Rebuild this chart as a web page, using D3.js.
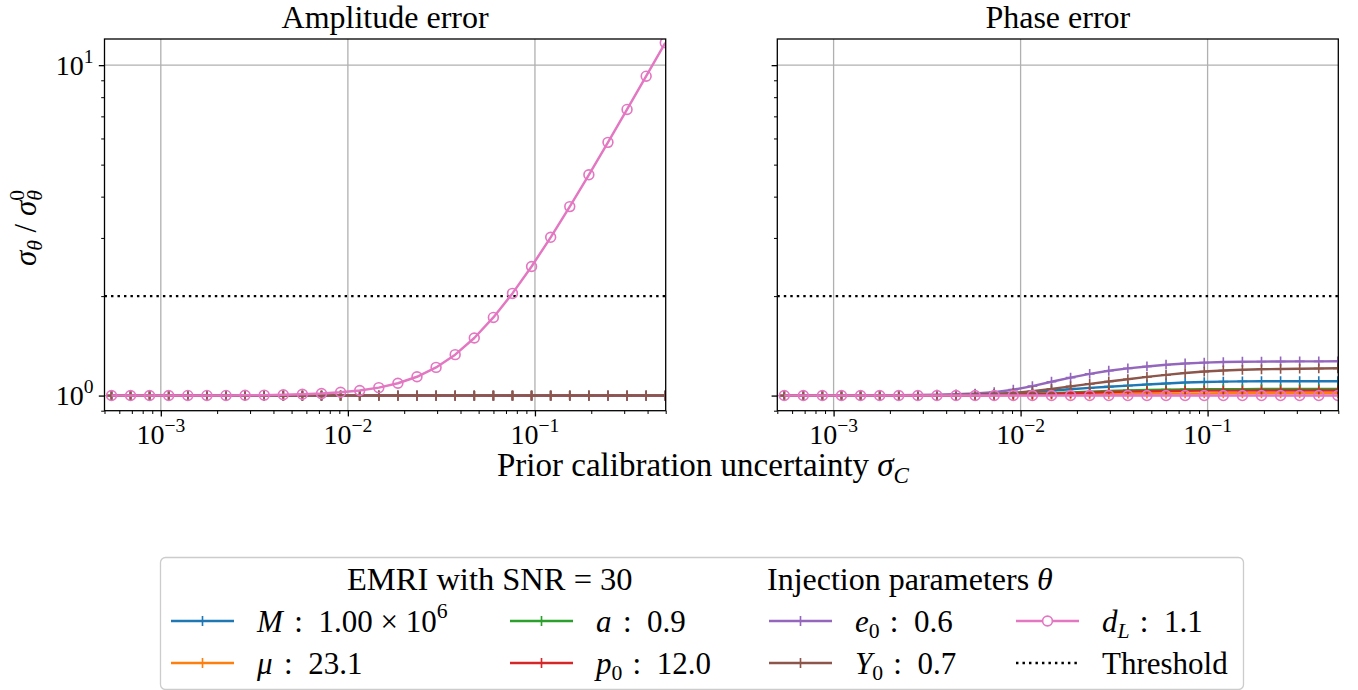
<!DOCTYPE html>
<html><head><meta charset="utf-8">
<script src="https://cdn.jsdelivr.net/npm/d3@7"></script>
<style>
body{margin:0;background:#fff;}
</style>
</head><body>
<svg id="c" width="1358" height="690"></svg>
<script>
// ---------------- DATA ----------------
const sigmaC = [0.000545, 0.000689, 0.000871, 0.001102, 0.001394, 0.001764, 0.002231, 0.002822, 0.003570, 0.004516,
                0.005713, 0.007227, 0.009142, 0.011565, 0.014630, 0.018507, 0.023411, 0.029615, 0.037463, 0.047391,
                0.059950, 0.075837, 0.095934, 0.121357, 0.153517, 0.194199, 0.245662, 0.310763, 0.393115, 0.497291];

const seriesKeys = ["M", "mu", "a", "p0", "e0", "Y0", "dL"];
const seriesColors = ["#1f77b4", "#ff7f0e", "#2ca02c", "#d62728", "#9467bd", "#8c564b", "#e377c2"];
const seriesMarkers = ["+", "+", "+", "+", "+", "+", "o"];

// Amplitude error panel
const ampM  = [1,1,1,1,1,1,1,1,1,1, 1,1,1,1,1,1,1,1,1,1, 1,1,1,1,1,1,1,1,1,1];
const ampMu = [1,1,1,1,1,1,1,1,1,1, 1,1,1,1,1,1,1,1,1,1, 1,1,1,1,1,1,1,1,1,1];
const ampA  = [1,1,1,1,1,1,1,1,1,1, 1,1,1,1,1,1,1,1,1,1, 1,1,1,1,1,1,1,1,1,1];
const ampP0 = [1,1,1,1,1,1,1,1,1,1, 1,1,1,1,1,1,1,1,1,1, 1,1,1,1,1,1,1,1,1,1];
const ampE0 = [1,1,1,1,1,1,1,1,1,1, 1,1,1,1,1,1,1,1,1,1, 1,1,1,1,1,1,1,1,1,1];
const ampY0 = [1,1,1,1,1,1,1,1,1,1, 1,1,1,1,1,1,1,1,1,1, 1,1,1,1,1,1,1,1,1,1];
const ampDL = [1.000, 1.000, 1.000, 1.000, 1.001, 1.001, 1.001, 1.002, 1.003, 1.006,
               1.009, 1.014, 1.023, 1.036, 1.057, 1.090, 1.140, 1.217, 1.330, 1.494,
               1.724, 2.038, 2.459, 3.013, 3.732, 4.657, 5.839, 7.346, 9.260, 11.689];

// Phase error panel
const phM  = [1.000, 1.000, 1.000, 1.000, 1.000, 1.001, 1.001, 1.001, 1.002, 1.003,
              1.006, 1.010, 1.016, 1.024, 1.035, 1.045, 1.055, 1.064, 1.072, 1.080,
              1.088, 1.095, 1.099, 1.102, 1.104, 1.105, 1.105, 1.105, 1.105, 1.105];
const phMu = [1.000, 1.000, 1.000, 1.000, 1.000, 1.000, 1.000, 1.000, 1.000, 1.001,
              1.001, 1.002, 1.003, 1.004, 1.006, 1.007, 1.009, 1.011, 1.012, 1.014,
              1.014, 1.015, 1.015, 1.016, 1.016, 1.016, 1.016, 1.016, 1.016, 1.016];
const phA  = [1.000, 1.000, 1.000, 1.000, 1.000, 1.000, 1.001, 1.001, 1.001, 1.002,
              1.004, 1.005, 1.008, 1.012, 1.016, 1.022, 1.027, 1.032, 1.037, 1.040,
              1.042, 1.044, 1.045, 1.046, 1.046, 1.047, 1.047, 1.047, 1.047, 1.047];
const phP0 = [1.000, 1.000, 1.000, 1.000, 1.000, 1.000, 1.000, 1.001, 1.001, 1.002,
              1.003, 1.004, 1.006, 1.009, 1.013, 1.017, 1.021, 1.025, 1.028, 1.031,
              1.032, 1.034, 1.035, 1.035, 1.035, 1.036, 1.036, 1.036, 1.036, 1.036];
const phE0 = [1.000, 1.000, 1.001, 1.001, 1.001, 1.002, 1.003, 1.004, 1.006, 1.009,
              1.014, 1.024, 1.042, 1.068, 1.101, 1.133, 1.163, 1.189, 1.209, 1.225,
              1.240, 1.251, 1.258, 1.263, 1.266, 1.267, 1.268, 1.269, 1.269, 1.270];
const phY0 = [1.000, 1.000, 1.000, 1.000, 1.001, 1.001, 1.002, 1.002, 1.003, 1.005,
              1.008, 1.012, 1.019, 1.031, 1.047, 1.066, 1.085, 1.103, 1.121, 1.139,
              1.155, 1.170, 1.182, 1.191, 1.197, 1.201, 1.204, 1.206, 1.208, 1.209];
const phDL = [1,1,1,1,1,1,1,1,1,1, 1,1,1,1,1,1,1,1,1,1, 1,1,1,1,1,1,1,1,1,1];

const thresholdValue = 2;
const panelTitles = ["Amplitude error", "Phase error"];
const xMajorTicks = [1e-3, 1e-2, 1e-1];
const xMajorExp = ["−3", "−2", "−1"];
const xMinorTicks = [5e-4, 6e-4, 7e-4, 8e-4, 9e-4, 2e-3, 3e-3, 4e-3, 5e-3, 6e-3, 7e-3, 8e-3, 9e-3,
                     2e-2, 3e-2, 4e-2, 5e-2, 6e-2, 7e-2, 8e-2, 9e-2, 2e-1, 3e-1, 4e-1, 5e-1];
const yMajorTicks = [1, 10];
const yMajorExp = ["0", "1"];
const yMinorTicks = [0.9, 2, 3, 4, 5, 6, 7, 8, 9];
const xDomain = [5e-4, 0.5];
const yDomain = [0.9, 12];

// ---------------- DRAWING ----------------
const FONT = "'Liberation Serif', 'DejaVu Serif', 'Times New Roman', serif";
const W = 1358, H = 690;
const svg = d3.select("#c");
svg.append("rect").attr("width", W).attr("height", H).attr("fill", "#fff");

const yTop = 39, yBot = 410.7;
const panels = [{x0: 104.5, x1: 665.7}, {x0: 777.3, x1: 1338.3}];
const LW = 2.45, MS = 4.9, MEW = 1.63;

function mathText(parent, x, y, parts, size, anchor) {
  const g = parent.append("g");
  let cx = 0, lastStart = 0;
  parts.forEach(p => {
    const small = p.sub || p.sup;
    const fs = small ? size * 0.7 : size;
    const dy = p.sub ? size * 0.2 : (p.sup ? -size * (p.supRaise || 0.4) : 0);
    const px = p.stack ? lastStart : cx;
    const t = g.append("text").attr("x", px).attr("y", dy)
      .attr("font-family", FONT)
      .attr("font-size", fs).attr("font-style", p.it ? "italic" : "normal")
      .attr("fill", "#000")
      .style("white-space", "pre").text(p.t);
    const w = t.node().getComputedTextLength();
    if (p.stack) { cx = Math.max(cx, px + w); }
    else { lastStart = px; cx = px + w; }
    if (p.gap) cx += p.gap * size;
  });
  const off = anchor === "middle" ? -cx / 2 : (anchor === "end" ? -cx : 0);
  g.attr("transform", `translate(${x + off},${y})`);
  return g;
}

function markerPath(type) {
  if (type === "+") return `M${-MS},0H${MS}M0,${-MS}V${MS}`;
  return null;
}

function drawPanel(idx, seriesList, showYLabels) {
  const {x0, x1} = panels[idx];
  const x = d3.scaleLog().domain(xDomain).range([x0, x1]);
  const y = d3.scaleLog().domain(yDomain).range([yBot, yTop]);
  const g = svg.append("g");
  const clipId = "clip" + idx;
  svg.append("clipPath").attr("id", clipId).append("rect")
    .attr("x", x0).attr("y", yTop).attr("width", x1 - x0).attr("height", yBot - yTop);

  // grid
  g.selectAll("line.gx").data(xMajorTicks).join("line").attr("class", "gx")
    .attr("x1", d => x(d)).attr("x2", d => x(d)).attr("y1", yTop).attr("y2", yBot)
    .attr("stroke", "#b0b0b0").attr("stroke-width", 1.3);
  g.selectAll("line.gy").data(yMajorTicks).join("line").attr("class", "gy")
    .attr("y1", d => y(d)).attr("y2", d => y(d)).attr("x1", x0).attr("x2", x1)
    .attr("stroke", "#b0b0b0").attr("stroke-width", 1.3);

  const plot = g.append("g").attr("clip-path", `url(#${clipId})`);
  // threshold
  plot.append("path")
    .attr("d", d3.line().x(d => x(d)).y(() => y(thresholdValue))(xDomain))
    .attr("fill", "none").attr("stroke", "#000").attr("stroke-width", LW)
    .attr("stroke-dasharray", "2.45,4.04");

  const line = d3.line().x((d, i) => x(sigmaC[i])).y(d => y(d));
  seriesList.forEach((vals, si) => {
    const col = seriesColors[si];
    plot.append("path").attr("d", line(vals)).attr("fill", "none")
      .attr("stroke", col).attr("stroke-width", LW).attr("stroke-linejoin", "round");
    if (seriesMarkers[si] === "+") {
      plot.append("g").selectAll("path").data(vals).join("path")
        .attr("d", markerPath("+"))
        .attr("transform", (d, i) => `translate(${x(sigmaC[i])},${y(d)})`)
        .attr("stroke", col).attr("stroke-width", MEW).attr("fill", "none");
    } else {
      plot.append("g").selectAll("circle").data(vals).join("circle")
        .attr("cx", (d, i) => x(sigmaC[i])).attr("cy", d => y(d)).attr("r", MS)
        .attr("stroke", col).attr("stroke-width", MEW).attr("fill", "none");
    }
  });

  // axes ticks
  const axX = g.append("g").attr("transform", `translate(0,${yBot})`)
    .call(d3.axisBottom(x).tickValues(xMajorTicks).tickSize(5.7).tickFormat(""));
  const axXm = g.append("g").attr("transform", `translate(0,${yBot})`)
    .call(d3.axisBottom(x).tickValues(xMinorTicks).tickSize(3.3).tickFormat(""));
  const axY = g.append("g").attr("transform", `translate(${x0},0)`)
    .call(d3.axisLeft(y).tickValues(yMajorTicks).tickSize(5.7).tickFormat(""));
  const axYm = g.append("g").attr("transform", `translate(${x0},0)`)
    .call(d3.axisLeft(y).tickValues(yMinorTicks).tickSize(3.3).tickFormat(""));
  [axX, axY].forEach(a => { a.select(".domain").remove(); a.selectAll("line").attr("stroke", "#000").attr("stroke-width", 1.3); });
  [axXm, axYm].forEach(a => { a.select(".domain").remove(); a.selectAll("line").attr("stroke", "#000").attr("stroke-width", 1.0); });

  // spines
  g.append("rect").attr("x", x0).attr("y", yTop).attr("width", x1 - x0).attr("height", yBot - yTop)
    .attr("fill", "none").attr("stroke", "#000").attr("stroke-width", 1.3);

  // tick labels
  xMajorTicks.forEach((v, i) => {
    mathText(svg, x(v), 444, [{t: "10"}, {t: xMajorExp[i], sup: true, supRaise: 0.42}], 28, "middle");
  });
  if (showYLabels) {
    yMajorTicks.forEach((v, i) => {
      mathText(svg, 93.5, y(v) + 9.5, [{t: "10"}, {t: yMajorExp[i], sup: true, supRaise: 0.42}], 28, "end");
    });
  }
  // title
  mathText(svg, (x0 + x1) / 2, 27.5, [{t: panelTitles[idx]}], 32, "middle");
}

drawPanel(0, [ampM, ampMu, ampA, ampP0, ampE0, ampY0, ampDL], true);
drawPanel(1, [phM, phMu, phA, phP0, phE0, phY0, phDL], false);

// y label
const yl = svg.append("g").attr("transform", "translate(36,228) rotate(-90)");
mathText(yl, 0, 0, [{t: "σ", it: true}, {t: "θ", it: true, sub: true}, {t: " / "},
                    {t: "σ", it: true}, {t: "θ", it: true, sub: true}, {t: "0", sup: true, stack: true}], 31, "middle");

// x label
mathText(svg, 703, 476, [{t: "Prior calibration uncertainty "}, {t: "σ", it: true}, {t: "C", it: true, sub: true}], 33, "middle");

// ---------------- LEGEND ----------------
svg.append("rect").attr("x", 160.5).attr("y", 557.5).attr("width", 1083).attr("height", 132)
  .attr("rx", 5).attr("fill", "#fff").attr("fill-opacity", 0.8)
  .attr("stroke", "#cccccc").attr("stroke-width", 1.3);

mathText(svg, 347, 589.5, [{t: "EMRI with SNR = 30"}], 32.5, "start");
mathText(svg, 767, 589.5, [{t: "Injection parameters "}, {t: "θ", it: true}], 32, "start");

const legendLabels = [
  [{t: "M", it: true, gap: 0.12}, {t: " :  1.00 × 10"}, {t: "6", sup: true, supRaise: 0.42}],
  [{t: "μ", it: true, gap: 0.12}, {t: " :  23.1"}],
  [{t: "a", it: true, gap: 0.12}, {t: " :  0.9"}],
  [{t: "p", it: true}, {t: "0", sub: true, gap: 0.08}, {t: " :  12.0"}],
  [{t: "e", it: true}, {t: "0", sub: true, gap: 0.08}, {t: " :  0.6"}],
  [{t: "Y", it: true}, {t: "0", sub: true, gap: 0.08}, {t: " :  0.7"}],
  [{t: "d", it: true}, {t: "L", it: true, sub: true, gap: 0.08}, {t: " :  1.1"}],
  [{t: "Threshold"}]
];
const legHandleX = [171, 510, 769, 1016];
const legHandleLen = 63;
const legRowY = [621, 663];
const legKinds = [0, 1, 2, 3, 4, 5, 6, "thr"];
legKinds.forEach((k, j) => {
  const col = Math.floor(j / 2), row = j % 2;
  const hx = legHandleX[col], hy = legRowY[row];
  const lg = svg.append("g");
  if (k === "thr") {
    lg.append("line").attr("x1", hx).attr("x2", hx + legHandleLen).attr("y1", hy).attr("y2", hy)
      .attr("stroke", "#000").attr("stroke-width", LW).attr("stroke-dasharray", "2.45,4.04");
  } else {
    const c = seriesColors[k];
    lg.append("line").attr("x1", hx).attr("x2", hx + legHandleLen).attr("y1", hy).attr("y2", hy)
      .attr("stroke", c).attr("stroke-width", LW);
    if (seriesMarkers[k] === "+") {
      lg.append("path").attr("d", markerPath("+")).attr("transform", `translate(${hx + legHandleLen / 2},${hy})`)
        .attr("stroke", c).attr("stroke-width", MEW);
    } else {
      lg.append("circle").attr("cx", hx + legHandleLen / 2).attr("cy", hy).attr("r", MS)
        .attr("stroke", c).attr("stroke-width", MEW).attr("fill", "#fff");
    }
  }
  mathText(svg, hx + legHandleLen + 23, hy + 10.5, legendLabels[j], 31, "start");
});
</script>
</body></html>
